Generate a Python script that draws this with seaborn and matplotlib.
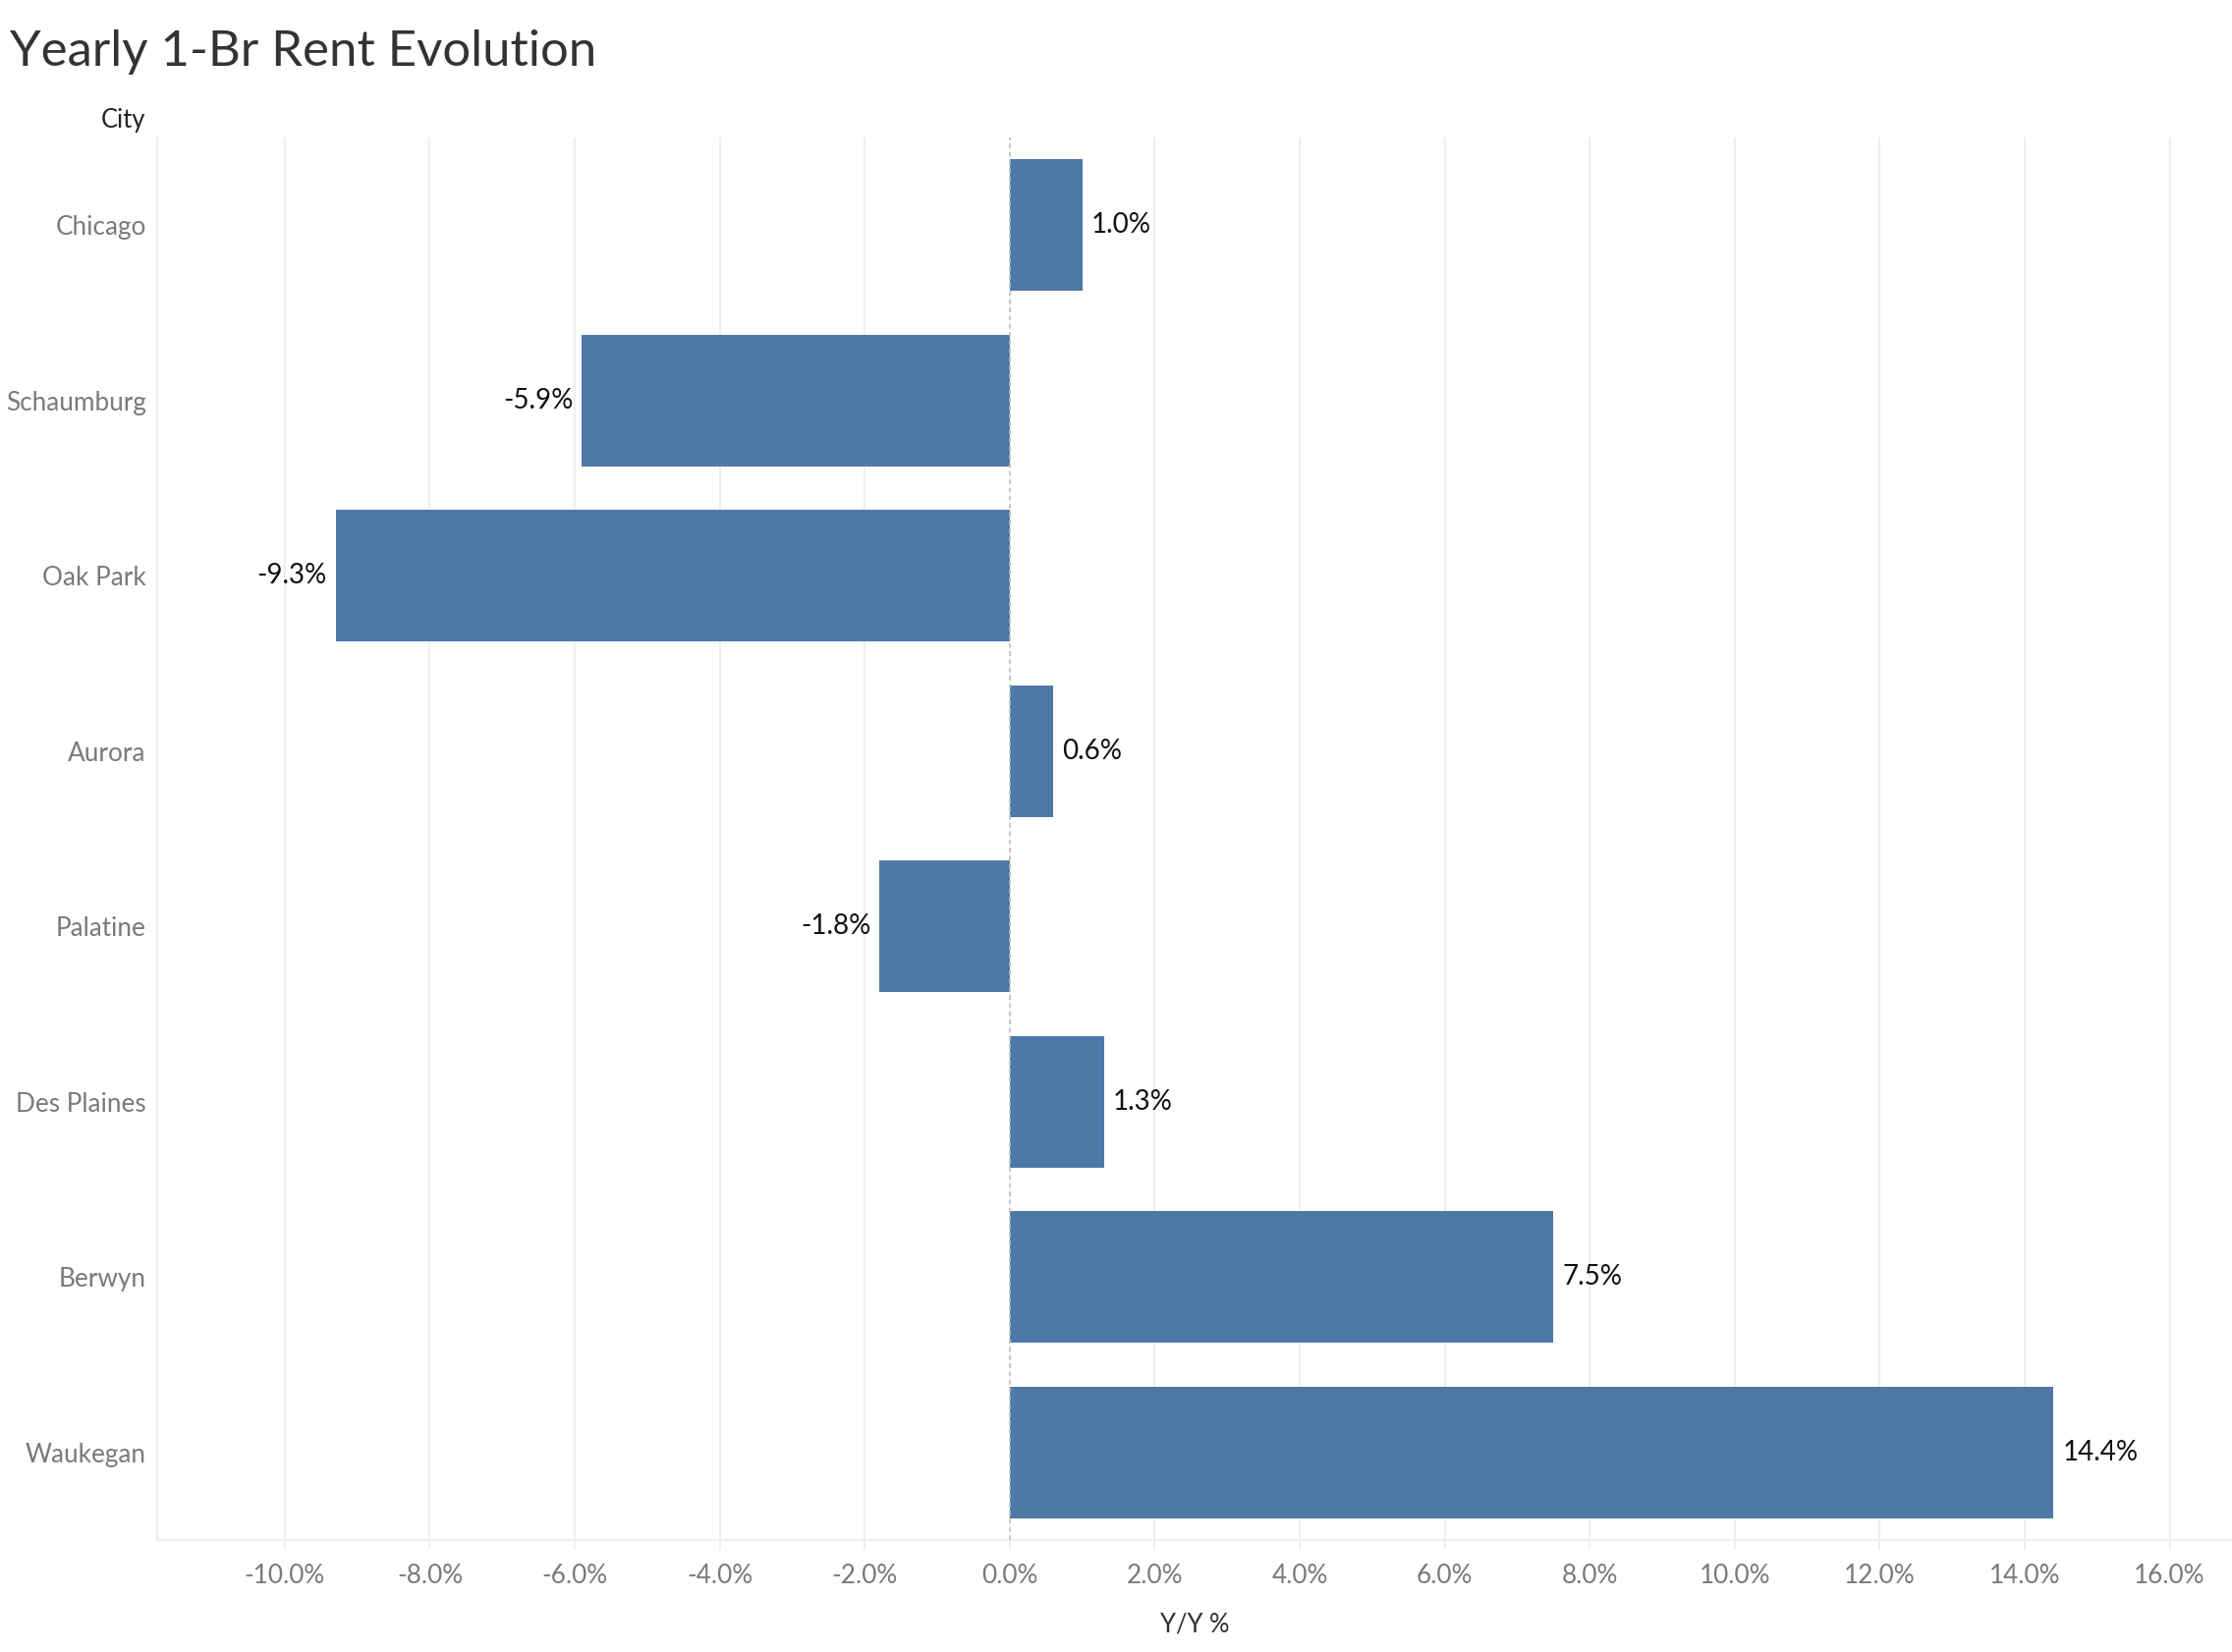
import matplotlib
matplotlib.use("Agg")
import matplotlib.pyplot as plt
import seaborn as sns
import pandas as pd

cities = ["Chicago", "Schaumburg", "Oak Park", "Aurora", "Palatine",
          "Des Plaines", "Berwyn", "Waukegan"]
yoy_pct = [1.0, -5.9, -9.3, 0.6, -1.8, 1.3, 7.5, 14.4]
x_ticks = [-10, -8, -6, -4, -2, 0, 2, 4, 6, 8, 10, 12, 14, 16]

title = "Yearly 1-Br Rent Evolution"
row_header = "City"
x_title = "Y/Y %"

df = pd.DataFrame({"City": cities, "YoY": yoy_pct})

sns.set_theme(style="white")
plt.rcParams["font.family"] = ["Lato", "DejaVu Sans"]

W, H, DPI = 2272, 1682, 200
fig = plt.figure(figsize=(W / DPI, H / DPI), dpi=DPI)
ax = fig.add_axes([160 / W, (H - 1568) / H, (2272 - 160) / W, (1568 - 140) / H])

BAR = "#4e79a7"
GRID = "#efefef"
LABEL = "#7a7a7a"

sns.barplot(data=df, x="YoY", y="City", order=cities, orient="h",
            color=BAR, saturation=1, width=0.75, ax=ax, zorder=2,
            linewidth=0)

ax.set_xlim(-11.76, 16.86)
ax.set_ylim(len(cities) - 0.5, -0.5)

for t in x_ticks:
    if t != 0:
        ax.axvline(t, color=GRID, lw=0.75, zorder=0)
ax.axvline(0, color="#bdbdbd", lw=0.6, ls=(0, (3, 2)), zorder=3)

for s in ["top", "right"]:
    ax.spines[s].set_visible(False)
for s in ["left", "bottom"]:
    ax.spines[s].set_color(GRID)
    ax.spines[s].set_linewidth(0.8)

ax.set_xticks(x_ticks)
ax.set_xticklabels([f"{t:.1f}%" for t in x_ticks])
ax.tick_params(axis="x", bottom=True, length=3.6, width=0.75, color=GRID,
               pad=5, labelsize=9.4, labelcolor=LABEL)
ax.tick_params(axis="y", left=False, length=0, pad=4, labelsize=9.4,
               labelcolor=LABEL)

ax.set_ylabel("")
ax.set_xlabel(x_title, fontsize=9.2, color="#333333", labelpad=9)

for i, v in enumerate(yoy_pct):
    off = 0.12
    if v >= 0:
        ax.text(v + off, i, f"{v:.1f}%", ha="left", va="center",
                fontsize=10, color="#111111", zorder=4)
    else:
        ax.text(v - off, i, f"{v:.1f}%", ha="right", va="center",
                fontsize=10, color="#111111", zorder=4)

fig.text(10 / W, 1 - 67 / H, title, fontsize=18.3, color="#333333",
         ha="left", va="baseline")
fig.text(148 / W, 1 - 130 / H, row_header, fontsize=9.2, color="#222222",
         ha="right", va="baseline")

fig.savefig("out.png", dpi=DPI)
